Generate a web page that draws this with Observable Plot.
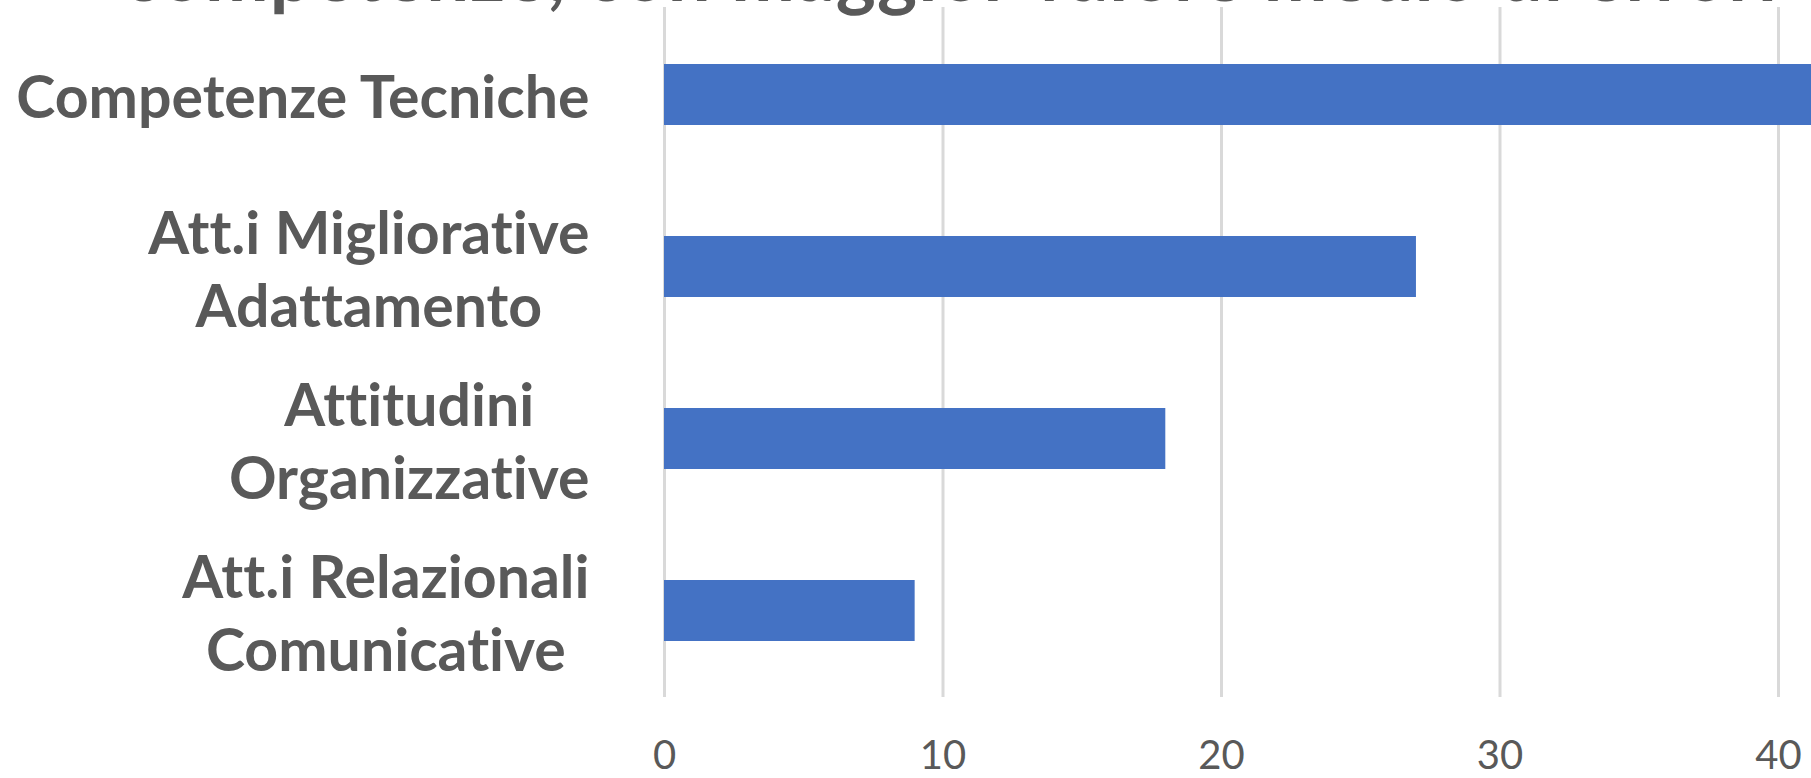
<!DOCTYPE html>
<html>
<head>
<meta charset="utf-8">
<script src="https://cdn.jsdelivr.net/npm/d3@7"></script>
<script src="https://cdn.jsdelivr.net/npm/@observablehq/plot@0.6"></script>
<style>
  html, body { margin: 0; padding: 0; background: #fff; overflow: hidden; }
  #wrap { position: relative; width: 1811px; height: 778px; overflow: hidden; }
  #title { position: absolute; left: 0; top: 0; }
  svg { font-variant-ligatures: none; }
</style>
</head>
<body>
<div id="wrap">
  <div id="chart"></div>
  <svg id="title" width="1811" height="40"></svg>
</div>
<script>
const titleText = "competenze, con maggior valore medio di errori";
const categories = [
  "Competenze Tecniche",
  "Att.i Migliorative\nAdattamento",
  "Attitudini\nOrganizzative",
  "Att.i Relazionali\nComunicative"
];
const values = [45, 27, 18, 9];
const xTicks = [0, 10, 20, 30, 40];

const data = categories.map((c, i) => ({category: c, value: values[i]}));

const plot = Plot.plot({
  width: 1811,
  height: 778,
  marginLeft: 664,
  marginRight: 0,
  marginTop: 7,
  marginBottom: 81,
  style: {background: "#fff", overflow: "hidden"},
  x: {domain: [0, 50], range: [664, 664 + 50 * 27.85]},
  y: {domain: categories, paddingInner: 0.646, paddingOuter: 0.323},
  marks: [
    Plot.ruleX(xTicks, {stroke: "#d9d9d9", strokeWidth: 3}),
    Plot.barX(data, {y: "category", x: "value", fill: "#4472C4", clip: true}),
    Plot.axisX({ticks: xTicks, tickSize: 0, tickPadding: 43, fontSize: 40, fill: "#595959",
                fontFamily: "Lato, sans-serif", label: null}),
    Plot.axisY({tickSize: 0, tickPadding: 75, fontSize: 59, fontWeight: 700, fill: "#595959",
                fontFamily: "Lato, sans-serif", lineHeight: 1.237, label: null})
  ]
});
document.getElementById("chart").appendChild(plot);

// chart title (cut off by the top edge, as in the reference)
d3.select("#title").append("text")
  .attr("x", 123).attr("y", 1)
  .attr("font-family", "Lato, sans-serif").attr("font-weight", 700)
  .attr("font-size", 76).attr("fill", "#595959")
  .attr("textLength", 1654).attr("lengthAdjust", "spacing")
  .text(titleText);

function finish() {
  // center the lines of each multi-line category label, as in the reference
  plot.querySelectorAll('g[aria-label="y-axis tick label"] text').forEach(t => {
    const spans = Array.from(t.querySelectorAll("tspan"));
    if (spans.length < 2) return;
    const widths = spans.map(s => s.getComputedTextLength());
    const W = Math.max(...widths);
    spans.forEach((s, i) => {
      const x0 = parseFloat(s.getAttribute("x") || 0);
      s.setAttribute("x", x0 - (W - widths[i]) / 2);
    });
  });
}
if (document.fonts && document.fonts.ready) document.fonts.ready.then(finish); else finish();
</script>
</body>
</html>
